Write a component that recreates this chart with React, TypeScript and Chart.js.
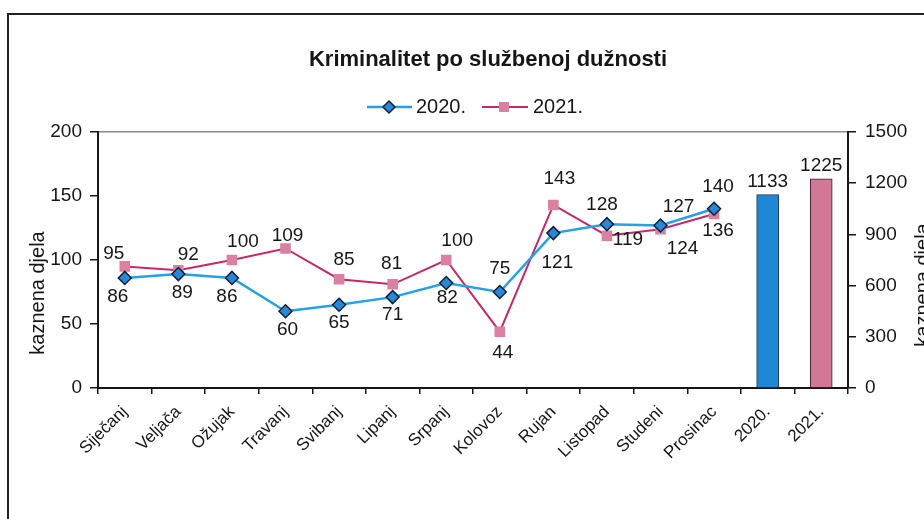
import React, { useEffect, useRef } from "react";
import { Chart, registerables } from "chart.js";

Chart.register(...registerables);

// ---------- data ----------
const categories = [
  "Siječanj", "Veljača", "Ožujak", "Travanj", "Svibanj", "Lipanj",
  "Srpanj", "Kolovoz", "Rujan", "Listopad", "Studeni", "Prosinac",
  "2020.", "2021.",
];
const series2020 = [86, 89, 86, 60, 65, 71, 82, 75, 121, 128, 127, 140];
const series2021 = [95, 92, 100, 109, 85, 81, 100, 44, 143, 119, 124, 136];
const total2020 = 1133;
const total2021 = 1225;
const seriesNames = ["2020.", "2021."];
const leftTickStep = 50;
const leftMax = 200;
const rightTickStep = 300;
const rightMax = 1500;
const titleText = "Kriminalitet po službenoj dužnosti";
const axisTitleText = "kaznena djela";

// ---------- style ----------
const FONT = "'Liberation Sans', Arial, Helvetica, sans-serif";
const BLUE_LINE = "#22a2e8";
const BLUE_MARK = "#2a86d6";
const BLUE_BAR = "#1e88d6";
const MAG_LINE = "#c8286a";
const MAG_MARK = "#d9819f";
const MAG_BAR = "#d27896";
const INK = "#161616";

// label offsets relative to each point (dx, dy) - styling only
const off2020 = [
  [-7, 19], [4, 19], [-5, 19], [2, 19], [0, 18], [0, 18],
  [1, 15], [0, -23], [4, 30], [-5, -19], [18, -19], [4, -22],
];
const off2021 = [
  [-11, -13], [10, -15], [11, -18], [2, -13], [5, -19], [-1, -21],
  [11, -19], [3, 21], [6, -26], [21, 4], [22, 19], [4, 17],
];

const n = series2020.length;
const line2020 = [...series2020, ...Array(categories.length - n).fill(null)];
const line2021 = [...series2021, ...Array(categories.length - n).fill(null)];
const bar2020 = categories.map((c) => (c === seriesNames[0] ? total2020 : null));
const bar2021 = categories.map((c) => (c === seriesNames[1] ? total2021 : null));

const decorPlugin = {
  id: "decor",
  afterDatasetsDraw(chart: any) {
    const ctx = chart.ctx as CanvasRenderingContext2D;
    ctx.save();
    ctx.fillStyle = INK;
    ctx.textAlign = "center";
    ctx.textBaseline = "middle";

    // title
    ctx.font = `bold 22px ${FONT}`;
    ctx.fillText(titleText, 488, 60);

    // legend
    const ly = 107;
    ctx.lineWidth = 2.5;
    ctx.strokeStyle = BLUE_LINE;
    ctx.beginPath();
    ctx.moveTo(367, ly);
    ctx.lineTo(412, ly);
    ctx.stroke();
    ctx.beginPath();
    ctx.moveTo(389, ly - 6);
    ctx.lineTo(395, ly);
    ctx.lineTo(389, ly + 6);
    ctx.lineTo(383, ly);
    ctx.closePath();
    ctx.fillStyle = BLUE_MARK;
    ctx.fill();
    ctx.lineWidth = 1.5;
    ctx.strokeStyle = "#0d2238";
    ctx.stroke();

    ctx.lineWidth = 2;
    ctx.strokeStyle = MAG_LINE;
    ctx.beginPath();
    ctx.moveTo(482, ly);
    ctx.lineTo(528, ly);
    ctx.stroke();
    ctx.fillStyle = MAG_MARK;
    ctx.fillRect(499, ly - 5, 10, 10);

    ctx.fillStyle = INK;
    ctx.textAlign = "left";
    ctx.font = `20px ${FONT}`;
    ctx.fillText(seriesNames[0], 416, ly);
    ctx.fillText(seriesNames[1], 533, ly);

    // axis titles
    ctx.font = `20px ${FONT}`;
    ctx.textAlign = "center";
    ctx.save();
    ctx.translate(38, 293);
    ctx.rotate(-Math.PI / 2);
    ctx.fillText(axisTitleText, 0, 0);
    ctx.restore();
    ctx.save();
    ctx.translate(923, 285);
    ctx.rotate(-Math.PI / 2);
    ctx.fillText(axisTitleText, 0, 0);
    ctx.restore();

    // data labels
    ctx.font = `19px ${FONT}`;
    const drawLabels = (dsIndex: number, values: number[], offs: number[][]) => {
      const meta = chart.getDatasetMeta(dsIndex);
      values.forEach((v, i) => {
        const el = meta.data[i];
        if (!el) return;
        const [dx, dy] = offs[i];
        ctx.fillText(String(v), el.x + dx, el.y + dy);
      });
    };
    drawLabels(0, series2020, off2020);
    drawLabels(1, series2021, off2021);

    const barLabel = (dsIndex: number, value: number, idx: number) => {
      const el = chart.getDatasetMeta(dsIndex).data[idx];
      if (!el) return;
      ctx.fillText(String(value), el.x, el.y - 13);
    };
    barLabel(2, total2020, categories.indexOf(seriesNames[0]));
    barLabel(3, total2021, categories.indexOf(seriesNames[1]));

    ctx.restore();
  },
};

export default function App() {
  const ref = useRef<HTMLCanvasElement | null>(null);

  useEffect(() => {
    if (!ref.current) return;
    const tickFont = { family: FONT, size: 19 };
    const chart = new Chart(ref.current, {
      type: "bar",
      data: {
        labels: categories,
        datasets: [
          {
            type: "line",
            label: seriesNames[0],
            data: line2020,
            yAxisID: "y",
            borderColor: BLUE_LINE,
            borderWidth: 2.5,
            pointStyle: "rectRot",
            pointRadius: 6.5,
            pointBackgroundColor: BLUE_MARK,
            pointBorderColor: "#0d2238",
            pointBorderWidth: 1.5,
            tension: 0,
            fill: false,
            order: 1,
          } as any,
          {
            type: "line",
            label: seriesNames[1],
            data: line2021,
            yAxisID: "y",
            borderColor: MAG_LINE,
            borderWidth: 2,
            pointStyle: "rect",
            pointRadius: 7.5,
            pointBackgroundColor: MAG_MARK,
            pointBorderColor: MAG_MARK,
            pointBorderWidth: 0,
            tension: 0,
            fill: false,
            order: 2,
          } as any,
          {
            type: "bar",
            label: seriesNames[0],
            data: bar2020,
            yAxisID: "y1",
            backgroundColor: BLUE_BAR,
            borderColor: "#1a3a5a",
            borderWidth: 1,
            barThickness: 22,
            grouped: false,
            order: 3,
          } as any,
          {
            type: "bar",
            label: seriesNames[1],
            data: bar2021,
            yAxisID: "y1",
            backgroundColor: MAG_BAR,
            borderColor: "#3a1a2a",
            borderWidth: 1,
            barThickness: 22,
            grouped: false,
            order: 4,
          } as any,
        ],
      },
      options: {
        responsive: false,
        animation: false,
        layout: { padding: { top: 132, left: 0, right: 0, bottom: 0 } },
        plugins: {
          legend: { display: false },
          title: { display: false },
          tooltip: { enabled: false },
        },
        scales: {
          x: {
            type: "category",
            offset: true,
            grid: {
              offset: true,
              drawOnChartArea: false,
              drawTicks: true,
              tickLength: 6,
              color: INK,
              lineWidth: 1.5,
            },
            border: { display: true, color: INK, width: 2 },
            ticks: {
              autoSkip: false,
              maxRotation: 45,
              minRotation: 45,
              padding: 8,
              color: INK,
              font: { family: FONT, size: 17 },
            },
            afterFit: (s: any) => {
              s.height = 519 - 388;
            },
          },
          y: {
            position: "left",
            min: 0,
            max: leftMax,
            grid: {
              drawOnChartArea: true,
              drawTicks: true,
              tickLength: 8,
              color: (c: any) =>
                c.tick && c.tick.value === leftMax ? "#8a8a8a" : "rgba(0,0,0,0)",
              tickColor: INK,
              lineWidth: 1.5,
            },
            border: { display: true, color: INK, width: 2 },
            ticks: {
              stepSize: leftTickStep,
              padding: 8,
              color: INK,
              font: tickFont,
              callback: (v: any) => String(v),
            },
            afterFit: (s: any) => {
              s.width = 98;
            },
          },
          y1: {
            position: "right",
            min: 0,
            max: rightMax,
            grid: {
              drawOnChartArea: false,
              drawTicks: true,
              tickLength: 8,
              color: INK,
              lineWidth: 1.5,
            },
            border: { display: true, color: INK, width: 2 },
            ticks: {
              stepSize: rightTickStep,
              padding: 9,
              color: INK,
              font: tickFont,
              callback: (v: any) => String(v),
            },
            afterFit: (s: any) => {
              s.width = 924 - 848;
            },
          },
        },
      } as any,
      plugins: [decorPlugin],
    });
    return () => chart.destroy();
  }, []);

  return (
    <div
      style={{
        position: "absolute",
        left: 0,
        top: 0,
        width: 924,
        height: 519,
        background: "#fff",
        overflow: "hidden",
      }}
    >
      <div
        style={{
          position: "absolute",
          left: 7,
          top: 13,
          width: 940,
          height: 540,
          borderLeft: "2px solid #222",
          borderTop: "2px solid #222",
        }}
      />
      <canvas
        ref={ref}
        width={924}
        height={519}
        style={{ position: "absolute", left: 0, top: 0, width: 924, height: 519 }}
      />
    </div>
  );
}
